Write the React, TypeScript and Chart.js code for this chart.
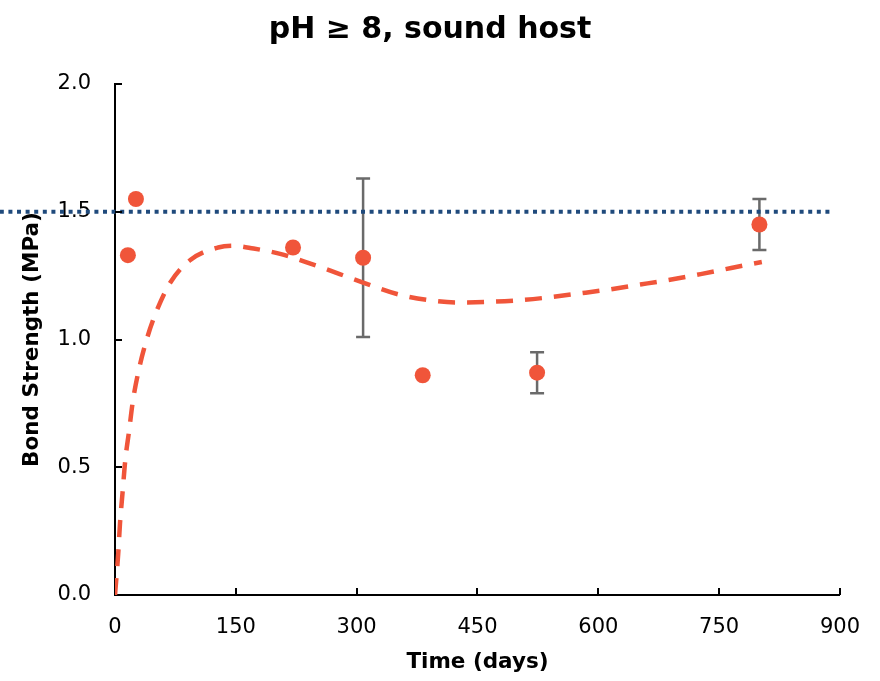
import React, { useEffect, useRef } from "react";
import { Chart, registerables } from "chart.js";

Chart.register(...registerables);

// Measured points
const obsDays = [16, 26, 221, 308, 382, 524, 800];
const obsStrength = [1.33, 1.55, 1.36, 1.32, 0.86, 0.87, 1.45];
const errLow = [null, null, null, 1.01, null, 0.79, 1.35];
const errHigh = [null, null, null, 1.63, null, 0.95, 1.55];

// Fitted trend (dashed)
const fitDays = [0, 4, 6.2, 9.5, 12.8, 17.4, 22, 29.4, 40, 51.7, 68.3, 93.5, 128, 147, 172, 205, 238, 279, 308, 350, 387, 424, 461, 503, 536, 576, 614, 652, 689, 727, 765, 803];
const fitStrength = [0, 0.162, 0.28, 0.405, 0.529, 0.64, 0.755, 0.879, 1.007, 1.112, 1.221, 1.311, 1.36, 1.367, 1.356, 1.335, 1.302, 1.256, 1.223, 1.178, 1.155, 1.145, 1.147, 1.154, 1.164, 1.18, 1.196, 1.215, 1.234, 1.256, 1.28, 1.303];

// Threshold line
const thresholdDays = [-143, 891];
const thresholdValue = 1.5;

const xTicks = [0, 150, 300, 450, 600, 750, 900];
const yTicks = [0, 0.5, 1.0, 1.5, 2.0];

const FONT = "'DejaVu Sans', sans-serif";
const ORANGE = "#F0553A";

const errorBarPlugin = {
  id: "errorBars",
  beforeDatasetsDraw(chart: any) {
    const ctx = chart.ctx;
    const xs = chart.scales.x;
    const ys = chart.scales.y;
    ctx.save();
    ctx.strokeStyle = "#6a6a6a";
    ctx.lineWidth = 2.5;
    for (let i = 0; i < obsDays.length; i++) {
      const lo = errLow[i];
      const hi = errHigh[i];
      if (lo == null || hi == null) continue;
      const px = xs.getPixelForValue(obsDays[i]);
      const pl = ys.getPixelForValue(lo);
      const ph = ys.getPixelForValue(hi);
      ctx.beginPath();
      ctx.moveTo(px, pl);
      ctx.lineTo(px, ph);
      ctx.moveTo(px - 7, pl);
      ctx.lineTo(px + 7, pl);
      ctx.moveTo(px - 7, ph);
      ctx.lineTo(px + 7, ph);
      ctx.stroke();
    }
    ctx.restore();
  },
};

const innerTicksPlugin = {
  id: "innerTicks",
  afterDraw(chart: any) {
    const ctx = chart.ctx;
    const xs = chart.scales.x;
    const ys = chart.scales.y;
    const area = chart.chartArea;
    ctx.save();
    ctx.strokeStyle = "#000";
    ctx.lineWidth = 2;
    ctx.beginPath();
    for (const v of xTicks) {
      if (v === 0) continue;
      const px = Math.round(xs.getPixelForValue(v));
      ctx.moveTo(px, area.bottom);
      ctx.lineTo(px, area.bottom - 7);
    }
    for (const v of yTicks) {
      if (v === 0) continue;
      const py = Math.round(ys.getPixelForValue(v));
      ctx.moveTo(area.left, py);
      ctx.lineTo(area.left + 7, py);
    }
    ctx.stroke();
    ctx.restore();
  },
};

export default function App() {
  const ref = useRef<HTMLCanvasElement | null>(null);

  useEffect(() => {
    if (!ref.current) return;
    const chart = new Chart(ref.current, {
      type: "scatter",
      data: {
        datasets: [
          {
            label: "Threshold",
            data: thresholdDays.map((d) => ({ x: d, y: thresholdValue })),
            showLine: true,
            borderColor: "#1F4A7C",
            borderWidth: 4,
            borderDash: [4, 4.6],
            pointRadius: 0,
            clip: false as any,
          },
          {
            label: "Fit",
            data: fitDays.map((d, i) => ({ x: d, y: fitStrength[i] })),
            showLine: true,
            borderColor: ORANGE,
            borderWidth: 4.5,
            borderDash: [17, 12],
            pointRadius: 0,
            cubicInterpolationMode: "monotone",
          },
          {
            label: "Measured",
            data: obsDays.map((d, i) => ({ x: d, y: obsStrength[i] })),
            showLine: false,
            backgroundColor: ORANGE,
            borderColor: ORANGE,
            pointRadius: 8,
            borderWidth: 0,
          },
        ],
      },
      options: {
        animation: false,
        responsive: false,
        maintainAspectRatio: false,
        layout: { padding: { left: 20, right: 40, top: 0, bottom: 6 } },
        plugins: {
          legend: { display: false },
          tooltip: { enabled: false },
          title: {
            display: true,
            text: "pH ≥ 8, sound host",
            color: "#000",
            font: { family: FONT, size: 30, weight: "bold" },
            padding: { top: 12, bottom: 36 },
          },
        },
        scales: {
          x: {
            type: "linear",
            min: 0,
            max: 900,
            afterBuildTicks: (scale: any) => {
              scale.ticks = xTicks.map((v) => ({ value: v }));
            },
            afterFit: (scale: any) => {
              scale.height = 80;
            },
            ticks: {
              color: "#000",
              font: { family: FONT, size: 21 },
              padding: 20,
              maxRotation: 0,
              callback: (v: any) => String(v),
            },
            grid: { display: true, drawOnChartArea: false, drawTicks: false },
            border: { display: true, color: "#000", width: 2 },
            title: {
              display: true,
              text: "Time (days)",
              color: "#000",
              font: { family: FONT, size: 21.5, weight: "bold" },
              padding: { top: 8, bottom: 0 },
            },
          },
          y: {
            type: "linear",
            min: 0,
            max: 2,
            afterBuildTicks: (scale: any) => {
              scale.ticks = yTicks.map((v) => ({ value: v }));
            },
            afterFit: (scale: any) => {
              scale.width = 95;
            },
            ticks: {
              color: "#000",
              font: { family: FONT, size: 21 },
              padding: 24,
              callback: (v: any) => Number(v).toFixed(1),
            },
            grid: { display: true, drawOnChartArea: false, drawTicks: false },
            border: { display: true, color: "#000", width: 2 },
            title: {
              display: true,
              text: "Bond Strength (MPa)",
              color: "#000",
              font: { family: FONT, size: 21.5, weight: "bold" },
              padding: { top: 0, bottom: 4 },
            },
          },
        },
      },
      plugins: [errorBarPlugin, innerTicksPlugin],
    } as any);
    return () => chart.destroy();
  }, []);

  return (
    <div style={{ position: "absolute", left: 0, top: 0, width: 880, height: 681, background: "#fff" }}>
      <canvas ref={ref} width={880} height={681} style={{ width: 880, height: 681 }} />
    </div>
  );
}
